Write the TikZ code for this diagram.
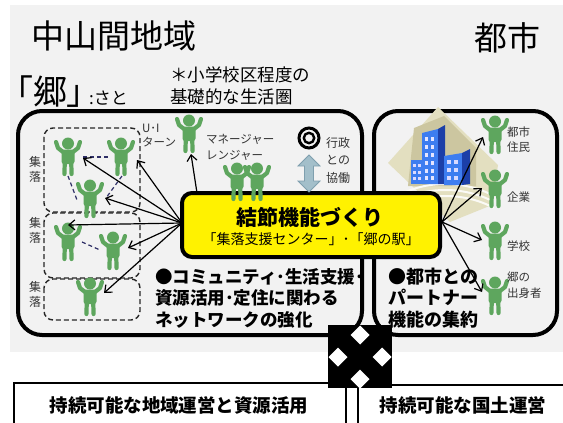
\documentclass[tikz,border=0pt]{standalone}
\usepackage{fontspec}
\newfontfamily\jp{Noto Sans CJK JP}
\newfontfamily\jpprop{Noto Sans CJK JP}[RawFeature=+palt]
\usetikzlibrary{arrows.meta}

\definecolor{bggray}{HTML}{F2F2F2}
\definecolor{pgreen}{HTML}{5EA65E}
\definecolor{navy}{HTML}{2E2E66}
\definecolor{beige}{HTML}{E3DFC0}
\definecolor{beigedark}{HTML}{CCC6A0}
\definecolor{bfront}{HTML}{3D7DF0}
\definecolor{bside}{HTML}{1C3FA8}
\definecolor{arrowblue}{HTML}{A3BFCA}
\definecolor{arrowedge}{HTML}{7F9FAE}
\definecolor{labelgray}{HTML}{333333}

\newcommand\fsz[2]{\fontsize{#1}{#2}\selectfont}

\tikzset{
  txt/.style={inner sep=0pt, text=black},
  small/.style={inner sep=0pt, text=labelgray, font=\jp\fsz{11.5}{15}},
  person/.pic={
    \fill[pgreen] (0,-12.5) circle[radius=6];
    \fill[pgreen, rounded corners=2.5pt] (-6.5,-6.5) rectangle (6.5,8);
    \draw[pgreen, line width=4.2pt, line cap=round, line join=round]
      (-5,-4) -- (-10,-8) -- (-12,-14)
      (5,-4) -- (10,-8) -- (12,-14)
      (-3.2,6) -- (-3.6,18)
      (3.2,6) -- (3.6,18);
  },
  link/.style={draw=navy, line width=1.2pt, dash pattern=on 4pt off 3pt},
  ray/.style={draw=black, line width=1.2pt, -{Straight Barb[length=6pt,width=10pt]}},
  region/.style={draw=black, line width=4pt, rounded corners=24pt},
  cluster/.style={draw=black!85, line width=1.4pt, dash pattern=on 5pt off 3pt, rounded corners=9pt},
  hubbox/.style={draw=black, line width=4pt, fill=yellow, rounded corners=10pt},
  lowbox/.style={draw=black, line width=2pt, fill=white},
}

\begin{document}
\begin{tikzpicture}[x=1pt, y=-1pt]
\useasboundingbox (0,0) rectangle (563,423);

% backdrop
\fill[bggray] (10,5) rectangle (563,352);

% headings
\node[txt, font=\jp\fsz{33}{36}] (tmount) at (114,36) {中山間地域};
\node[txt, font=\jp\fsz{33}{36}] (tcity) at (507,38) {都市};
\node[txt, anchor=west] (tsato) at (16,92)
  {{\jpprop\fsz{34}{36}「郷」}\kern5pt{\jp\fsz{17}{20}:さと}};
\node[txt, font=\jp\fsz{17.5}{22}, align=left, anchor=west] (tscope) at (170,86) {＊小学校区程度の\\基礎的な生活圏};

% the two areas
\draw[region] (18,111) rectangle (362,335);
\draw[region] (374,111) rectangle (557,335);

% city buildings
\fill[beige] (438,107) -- (498,165) -- (492,205) -- (450,222) -- (388,163) -- cycle;
\fill[beigedark] (414,128) -- (444,116) -- (476,148) -- (476,186) -- (408,186) -- cycle;
\foreach \k in {0,6,12}
  \draw[white!85!beige, line width=2pt] (398,196+\k) .. controls (425,180+\k) and (465,180+\k) .. (494,196+\k);
\fill[bfront] (411,160) rectangle (423,184);
\fill[bfront] (422,133) -- (438,129) -- (438,184) -- (422,184) -- cycle;
\fill[bside] (438,129) -- (445,125) -- (445,184) -- (438,184) -- cycle;
\fill[bfront] (444,156) -- (462,153) -- (462,185) -- (444,185) -- cycle;
\fill[bside] (462,153) -- (470,149) -- (470,184) -- (462,185) -- cycle;
\foreach \yy in {137,145,153,161,169,176}
  \foreach \xx in {425,431}
    \fill[white!90!blue] (\xx,\yy) rectangle ++(3,4);
\foreach \yy in {164,171,177}
  \foreach \xx in {413,418}
    \fill[white!85!blue] (\xx,\yy) rectangle ++(2.5,3);
\foreach \yy in {160,168,176}
  \foreach \xx in {447,454}
    \fill[white!85!blue] (\xx,\yy) rectangle ++(3.5,4);

% settlements
\draw[cluster] (44,128) rectangle (140,212);
\draw[cluster] (44,213) rectangle (140,278);
\draw[cluster] (44,279) rectangle (140,320);
\node[small, font=\jp\fsz{12}{15}, align=center] (s1) at (35,169) {集\\落};
\node[small, font=\jp\fsz{12}{15}, align=center] (s2) at (35,230) {集\\落};
\node[small, font=\jp\fsz{12}{15}, align=center] (s3) at (35,294) {集\\落};

% people
\pic (p1) at (68,156) {person};
\pic (p2) at (121,156) {person};
\pic (p3) at (90,198) {person};
\pic (p4) at (68,241) {person};
\pic (p5) at (113,250) {person};
\pic (p6) at (90,296) {person};
\pic (p7) at (189,133) {person};
\pic (p10) at (495,134) {person};
\pic (p11) at (495,188) {person};
\pic (p12) at (495,240) {person};
\pic (p13) at (495,295) {person};

% ties inside a settlement
\coordinate (l1a) at (83,157); \coordinate (l1b) at (110,157);
\coordinate (l2a) at (68,176); \coordinate (l2b) at (77,200);
\coordinate (l3a) at (122,176); \coordinate (l3b) at (106,198);
\coordinate (l4a) at (82,242); \coordinate (l4b) at (100,250);
\draw[link] (l1a) -- (l1b);
\draw[link] (l2a) -- (l2b);
\draw[link] (l3a) -- (l3b);
\draw[link] (l4a) -- (l4b);

% labels around the people
\node[small, align=left, anchor=west, font=\jp\fsz{11.5}{14}] (tui) at (142,136) {U･I\\ターン};
\node[small, align=left, anchor=west, font=\jp\fsz{11.5}{16}] (tmgr) at (206,147) {マネージャー\\レンジャー};
\node[small, align=left, anchor=west, font=\jp\fsz{12}{17.5}] (tgov) at (326,160) {行政\\との\\協働};
\node[small, align=left, anchor=west] (tres) at (507,140) {都市\\住民};
\node[small, anchor=west] (tcorp) at (507,197) {企業};
\node[small, anchor=west] (tsch) at (507,246) {学校};
\node[small, align=left, anchor=west, font=\jp\fsz{11.5}{16}] (tnat) at (507,285) {郷の\\出身者};

% rays from the hub
\coordinate (hubL) at (182,223);
\coordinate (hubT) at (197,193);
\coordinate (hubR) at (442,222);
\coordinate (t1) at (83,158);
\coordinate (t2) at (137,160);
\coordinate (t3) at (105,198);
\coordinate (t4) at (68,225);
\coordinate (t5) at (128,248);
\coordinate (t6) at (104,293);
\coordinate (t7) at (191,154);
\coordinate (r1) at (483,137);
\coordinate (r2) at (482,188);
\coordinate (r3) at (482,240);
\coordinate (r4) at (482,292);
\foreach \t in {t1,t2,t3,t4,t5,t6}
  \draw[ray] (hubL) -- (\t);
\draw[ray] (hubT) -- (t7);
\foreach \t in {r1,r2,r3,r4}
  \draw[ray] (hubR) -- (\t);

% hub box
\draw[hubbox] (182,193) rectangle (440,257);
\node[txt, font=\jp\bfseries\fsz{21}{24}] (thub) at (310,217) {結節機能づくり};
\node[txt, font=\jp\fsz{14}{16}] (thubsub) at (311,239) {「集落支援センター」･「郷の駅」};

% managers standing on the hub
\pic (p8) at (237,181) {person};
\pic (p9) at (257,181) {person};

% administration mark and two-way arrow
\coordinate (gov) at (309,138);
\draw[line width=3pt] (gov) circle[radius=10];
\draw[line width=2.4pt] (gov) circle[radius=5.2];
\filldraw[fill=arrowblue, draw=arrowedge, line width=0.8pt]
  (309,155) -- (320,166) -- (313.5,166) -- (313.5,181) -- (320,181) -- (309,192)
  -- (298,181) -- (304.5,181) -- (304.5,166) -- (298,166) -- cycle;

% area statements
\node[txt, font=\jp\bfseries\fsz{17.5}{21.5}, align=left, anchor=west] (tleft) at (155,298)
  {●コミュニティ･生活支援･\\資源活用･定住に関わる\\ネットワークの強化};
\node[txt, font=\jp\bfseries\fsz{18}{21.8}, align=left, anchor=west] (tright) at (388,298)
  {●都市との\\パートナー\\機能の集約};

% goals at the bottom
\draw[lowbox] (14,383) rectangle (346,440);
\draw[lowbox] (358,385) rectangle (575,440);
\node[txt, font=\jp\bfseries\fsz{18.5}{20}] (gleft) at (179,405) {持続可能な地域運営と資源活用};
\node[txt, font=\jp\bfseries\fsz{18.5}{20}] (gright) at (463,405) {持続可能な国土運営};

% crossing mark
\fill[black] (328,325) rectangle (392,388);
\foreach \cx/\cy in {360/335, 338/357, 382/357, 360/379}
  \fill[white] (\cx,\cy-9.5) -- (\cx+9.5,\cy) -- (\cx,\cy+9.5) -- (\cx-9.5,\cy) -- cycle;
\end{tikzpicture}
\end{document}
